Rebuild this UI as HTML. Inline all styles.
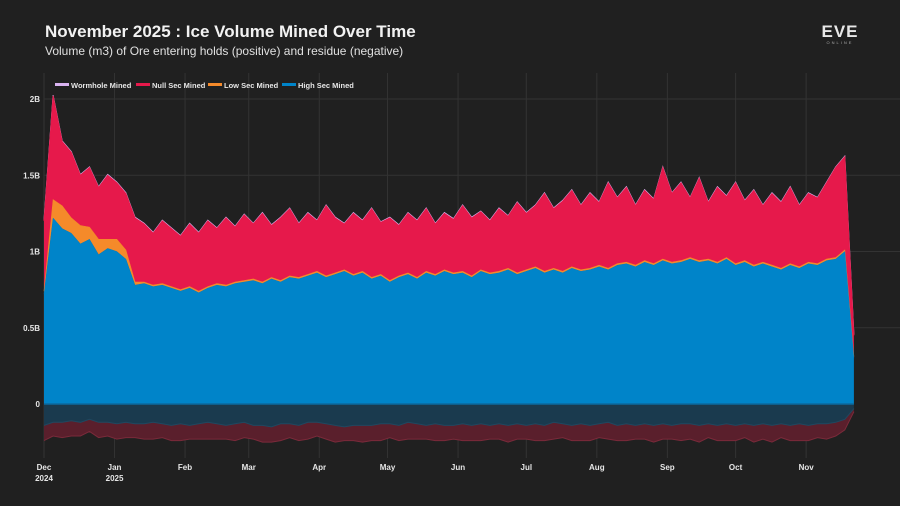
<!DOCTYPE html>
<html><head><meta charset="utf-8"><style>
html,body{margin:0;padding:0;background:#202020;width:900px;height:506px;overflow:hidden;font-family:"Liberation Sans",sans-serif}
</style></head><body>
<svg id="chart" width="900" height="506" xmlns="http://www.w3.org/2000/svg">
<rect width="900" height="506" fill="#202020"/>
<text x="45" y="37" fill="#f2f2f2" font-size="17" font-weight="bold">November 2025 : Ice Volume Mined Over Time</text>
<text x="45" y="55" fill="#e0e0e0" font-size="12">Volume (m3) of Ore entering holds (positive) and residue (negative)</text>
<g>
<text x="840" y="37" fill="#e8e8e8" font-size="17" font-weight="bold" text-anchor="middle" letter-spacing="1">EVE</text>
<text x="840" y="44" fill="#aaa" font-size="4" text-anchor="middle" letter-spacing="2">ONLINE</text>
</g>
<g id="grid"></g>
<g id="areas"></g>
<g id="axes"></g>
<g id="legend"></g>
</svg>
<script>
const highSec=[0.72,1.22,1.15,1.12,1.05,1.08,0.98,1.02,1.00,0.95,0.78,0.79,0.77,0.78,0.76,0.74,0.76,0.73,0.76,0.78,0.77,0.79,0.80,0.81,0.79,0.82,0.80,0.83,0.82,0.84,0.86,0.83,0.85,0.87,0.84,0.86,0.82,0.84,0.80,0.83,0.85,0.82,0.86,0.84,0.87,0.85,0.86,0.83,0.87,0.85,0.86,0.88,0.85,0.87,0.89,0.86,0.88,0.86,0.89,0.87,0.88,0.90,0.88,0.91,0.92,0.90,0.93,0.91,0.94,0.92,0.93,0.95,0.93,0.94,0.92,0.95,0.91,0.93,0.90,0.92,0.90,0.88,0.91,0.89,0.92,0.91,0.94,0.95,1.00,0.30];
const lowSec=[0.02,0.12,0.15,0.10,0.12,0.08,0.10,0.06,0.08,0.06,0.02,0.01,0.01,0.01,0.01,0.01,0.01,0.01,0.01,0.01,0.01,0.01,0.01,0.01,0.01,0.01,0.01,0.01,0.01,0.01,0.01,0.01,0.01,0.01,0.01,0.01,0.01,0.01,0.01,0.01,0.01,0.01,0.01,0.01,0.01,0.01,0.01,0.01,0.01,0.01,0.01,0.01,0.01,0.01,0.01,0.01,0.01,0.01,0.01,0.01,0.01,0.01,0.01,0.01,0.01,0.01,0.01,0.01,0.01,0.01,0.01,0.01,0.01,0.01,0.01,0.01,0.01,0.01,0.01,0.01,0.01,0.01,0.01,0.01,0.01,0.01,0.01,0.01,0.01,0.01];
const nullSec=[0.46,0.68,0.42,0.43,0.33,0.39,0.34,0.42,0.37,0.37,0.42,0.38,0.34,0.41,0.38,0.35,0.41,0.38,0.43,0.36,0.44,0.36,0.43,0.36,0.45,0.34,0.41,0.44,0.35,0.40,0.33,0.46,0.36,0.30,0.40,0.33,0.45,0.34,0.41,0.33,0.39,0.37,0.41,0.33,0.37,0.35,0.43,0.38,0.38,0.34,0.41,0.34,0.46,0.37,0.40,0.51,0.39,0.46,0.50,0.42,0.49,0.41,0.56,0.43,0.49,0.39,0.46,0.42,0.60,0.45,0.51,0.39,0.54,0.37,0.49,0.40,0.53,0.39,0.49,0.37,0.47,0.43,0.50,0.40,0.45,0.43,0.50,0.59,0.61,0.14];
const wormhole=new Array(90).fill(0.005);
const residueHigh=[-0.14,-0.12,-0.12,-0.11,-0.12,-0.10,-0.12,-0.12,-0.13,-0.12,-0.13,-0.13,-0.12,-0.13,-0.14,-0.13,-0.14,-0.13,-0.12,-0.13,-0.14,-0.13,-0.12,-0.14,-0.14,-0.15,-0.13,-0.13,-0.14,-0.12,-0.12,-0.13,-0.14,-0.15,-0.14,-0.14,-0.14,-0.13,-0.13,-0.14,-0.12,-0.13,-0.14,-0.13,-0.14,-0.14,-0.13,-0.14,-0.13,-0.14,-0.13,-0.14,-0.13,-0.14,-0.13,-0.14,-0.12,-0.13,-0.14,-0.13,-0.14,-0.13,-0.12,-0.14,-0.13,-0.14,-0.13,-0.14,-0.13,-0.14,-0.13,-0.13,-0.14,-0.13,-0.14,-0.13,-0.14,-0.13,-0.14,-0.13,-0.14,-0.13,-0.14,-0.13,-0.14,-0.13,-0.13,-0.12,-0.10,-0.03];
const residueNull=[-0.10,-0.09,-0.10,-0.10,-0.09,-0.08,-0.10,-0.09,-0.10,-0.10,-0.09,-0.10,-0.11,-0.09,-0.10,-0.11,-0.09,-0.10,-0.11,-0.10,-0.09,-0.11,-0.10,-0.09,-0.11,-0.10,-0.11,-0.09,-0.10,-0.11,-0.09,-0.10,-0.11,-0.09,-0.10,-0.11,-0.10,-0.11,-0.09,-0.10,-0.11,-0.10,-0.09,-0.11,-0.10,-0.09,-0.11,-0.10,-0.11,-0.09,-0.10,-0.11,-0.10,-0.09,-0.11,-0.10,-0.11,-0.09,-0.10,-0.11,-0.10,-0.09,-0.11,-0.10,-0.11,-0.09,-0.10,-0.11,-0.10,-0.09,-0.11,-0.10,-0.11,-0.09,-0.10,-0.11,-0.10,-0.09,-0.11,-0.10,-0.11,-0.09,-0.10,-0.11,-0.10,-0.09,-0.10,-0.09,-0.07,-0.02];
const startDate=Date.UTC(2024,11,1), stepDays=4;
const yTicks=[0,0.5,1,1.5,2];
const yTickLabels=["0","0.5B","1B","1.5B","2B"];
const xTickDates=[[2024,11],[2025,0],[2025,1],[2025,2],[2025,3],[2025,4],[2025,5],[2025,6],[2025,7],[2025,8],[2025,9],[2025,10]];
const xTickLabels=["Dec\n2024","Jan\n2025","Feb","Mar","Apr","May","Jun","Jul","Aug","Sep","Oct","Nov"];

const NS="http://www.w3.org/2000/svg";
const X0=44,PX_PER_DAY=2.275;
const Y0=404,PX_PER_B=152.5;
const xDay=d=>X0+d*PX_PER_DAY;
const xi=i=>xDay(i*stepDays);
const y=v=>Y0-v*PX_PER_B;
function mk(tag,attrs,parent){const e=document.createElementNS(NS,tag);for(const k in attrs)e.setAttribute(k,attrs[k]);parent.appendChild(e);return e;}
const grid=document.getElementById('grid'),areas=document.getElementById('areas'),axes=document.getElementById('axes'),legend=document.getElementById('legend');
const xEnd=xi(highSec.length-1);
yTicks.forEach((t,k)=>{
  if(t>0){const l=mk('line',{x1:X0,x2:900,y1:y(t),y2:y(t),stroke:'#333',"stroke-width":1},grid);
  
  }
  const tx=mk('text',{x:X0-4,y:y(t)+3,fill:'#e6e6e6',"font-size":8,"font-weight":"bold","text-anchor":"end"},axes);
  tx.textContent=yTickLabels[k];
  
  
});
xTickDates.forEach((d,k)=>{
  const day=(Date.UTC(d[0],d[1],1)-startDate)/86400000;const x=xDay(day);
  const l=mk('line',{x1:x,x2:x,y1:73,y2:458,stroke:'#333',"stroke-width":1},grid);
  
  
  xTickLabels[k].split('\n').forEach((s,j)=>{
    const tx=mk('text',{x:x,y:470+j*11,fill:'#e6e6e6',"font-size":8,"font-weight":"bold","text-anchor":"middle"},axes);
    tx.textContent=s;
    
    
  });
});
function band(lo,hi,fill,stroke,name,sw){
  let d='';for(let i=0;i<hi.length;i++)d+=(i?'L':'M')+xi(i).toFixed(1)+','+y(hi[i]).toFixed(1);
  for(let i=lo.length-1;i>=0;i--)d+='L'+xi(i).toFixed(1)+','+y(lo[i]).toFixed(1);
  const p=mk('path',{d:d+'Z',fill:fill,stroke:'none'},areas);
  
  
  let t='';for(let i=0;i<hi.length;i++)t+=(i?'L':'M')+xi(i).toFixed(1)+','+y(hi[i]).toFixed(1);
  mk('path',{d:t,fill:'none',stroke:stroke,"stroke-width":sw||1},areas);
}
const n=highSec.length,zero=new Array(n).fill(0);
const c1=highSec.slice(),c2=c1.map((v,i)=>v+lowSec[i]),c3=c2.map((v,i)=>v+nullSec[i]),c4=c3.map((v,i)=>v+wormhole[i]);
const r1=residueHigh.slice(),r2=r1.map((v,i)=>v+residueNull[i]);
band(r1,r2,'#5a1f2c','#7a2a3a','residue-null-area');
band(zero,r1,'#1a3a4e','#1f4860','residue-high-area');
band(c3,c4,'#d9b3f0','#d9b3f0','wormhole-area');
band(c2,c3,'#e6194b','#e6194b','null-sec-area');
band(c1,c2,'#f58a2a','#f58a2a','low-sec-area',0.6);
band(zero,c1,'#0084c9','#0084c9','high-sec-area',0.4);
const zl=mk('line',{x1:X0,x2:xEnd,y1:Y0,y2:Y0,stroke:'#0a6aa0',"stroke-width":1.5},axes);


const legItems=[["Wormhole Mined","#d9b3f0",55],["Null Sec Mined","#e6194b",136],["Low Sec Mined","#f58a2a",208],["High Sec Mined","#0084c9",282]];
legItems.forEach(it=>{
  const g=mk('g',{},legend);
  
  
  mk('rect',{x:it[2],y:83,width:14,height:3,fill:it[1]},g);
  const t=mk('text',{x:it[2]+16,y:88,fill:'#e6e6e6',"font-size":7.5,"font-weight":"bold"},g);t.textContent=it[0];
});
</script>
</body></html>
